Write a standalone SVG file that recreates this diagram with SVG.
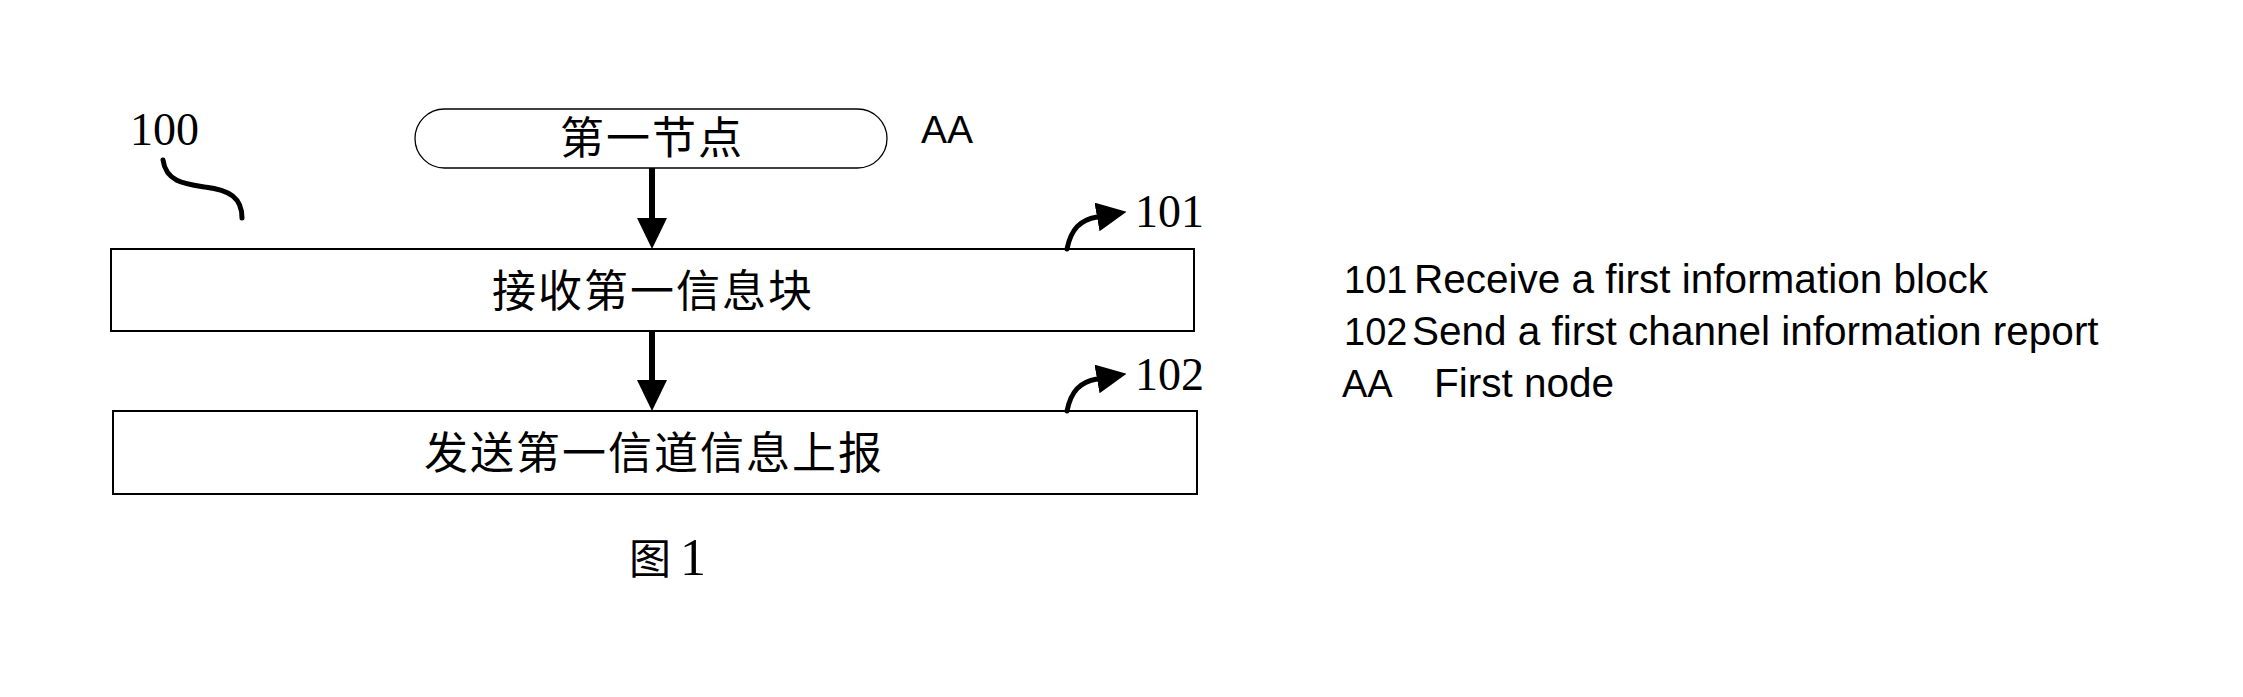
<svg xmlns="http://www.w3.org/2000/svg" width="2243" height="697" viewBox="0 0 2243 697">
  <style>
    .box { fill: #fff; stroke: #000; stroke-width: 2; }
    .pill { fill: #fff; stroke: #000; stroke-width: 1.3; }
    .cjk { font-family: "Liberation Serif", "Noto Sans CJK SC", serif; font-size: 44px; fill: #000; text-anchor: middle; letter-spacing: 2px; }
    .num { font-family: "Liberation Serif", serif; font-size: 46px; fill: #000; }
    .sans { font-family: "Liberation Sans", Arial, sans-serif; font-size: 40.5px; fill: #000; }
    .key { font-family: "Liberation Sans", Arial, sans-serif; font-size: 38px; fill: #000; }
    .flow { fill: none; stroke: #000; stroke-width: 6; }
    .ref { fill: none; stroke: #000; stroke-width: 5; stroke-linecap: round; }
  </style>
  <defs>
    <marker id="head" markerUnits="userSpaceOnUse" viewBox="0 0 31 30" markerWidth="31" markerHeight="30" refX="0" refY="15" orient="auto">
      <path d="M0,0 L31,15 L0,30 z" fill="#000"/>
    </marker>
    <marker id="refhead" markerUnits="userSpaceOnUse" viewBox="0 0 30 29" markerWidth="30" markerHeight="29" refX="0" refY="14.5" orient="auto">
      <path d="M0,0 L30,14.5 L0,29 z" fill="#000"/>
    </marker>
  </defs>
  <rect width="2243" height="697" fill="#fff"/>

  <g id="node-AA">
    <rect class="pill" x="415" y="109" width="472" height="59" rx="29.5" ry="29.5"/>
    <text class="cjk" x="652" y="154">第一节点</text>
  </g>
  <g id="node-101">
    <rect class="box" x="111" y="249" width="1083" height="82"/>
    <text class="cjk" x="653" y="307">接收第一信息块</text>
  </g>
  <g id="node-102">
    <rect class="box" x="113" y="411" width="1084" height="83"/>
    <text class="cjk" x="654" y="469">发送第一信道信息上报</text>
  </g>

  <g id="connectors">
    <path class="flow" d="M652,168 L652,218" marker-end="url(#head)"/>
    <path class="flow" d="M652,331 L652,380" marker-end="url(#head)"/>
    <path class="ref" d="M1067,249 C1071,229 1080,220 1097,217" marker-end="url(#refhead)"/>
    <path class="ref" d="M1067,411 C1071,391 1080,382 1097,379" marker-end="url(#refhead)"/>
    <path class="ref" d="M163,160 C166,182 185,184 205,187 C230,190 242,198 242,218"/>
  </g>

  <g id="labels">
    <text class="num" x="130" y="145">100</text>
    <text class="num" x="1135" y="227">101</text>
    <text class="num" x="1135" y="390">102</text>
    <text class="sans" x="921" y="143" style="font-size:39px">AA</text>
    <text x="629" y="574" style="font-family:'Noto Sans CJK SC',sans-serif;font-size:42px">图</text>
    <text class="num" x="680" y="575" style="font-size:52px">1</text>
  </g>

  <g id="legend">
    <text class="key" x="1344" y="293">101</text>
    <text class="sans" x="1414" y="293">Receive a first information block</text>
    <text class="key" x="1344" y="345">102</text>
    <text class="sans" x="1412" y="345">Send a first channel information report</text>
    <text class="key" x="1342" y="397">AA</text>
    <text class="sans" x="1434" y="397">First node</text>
  </g>
</svg>
